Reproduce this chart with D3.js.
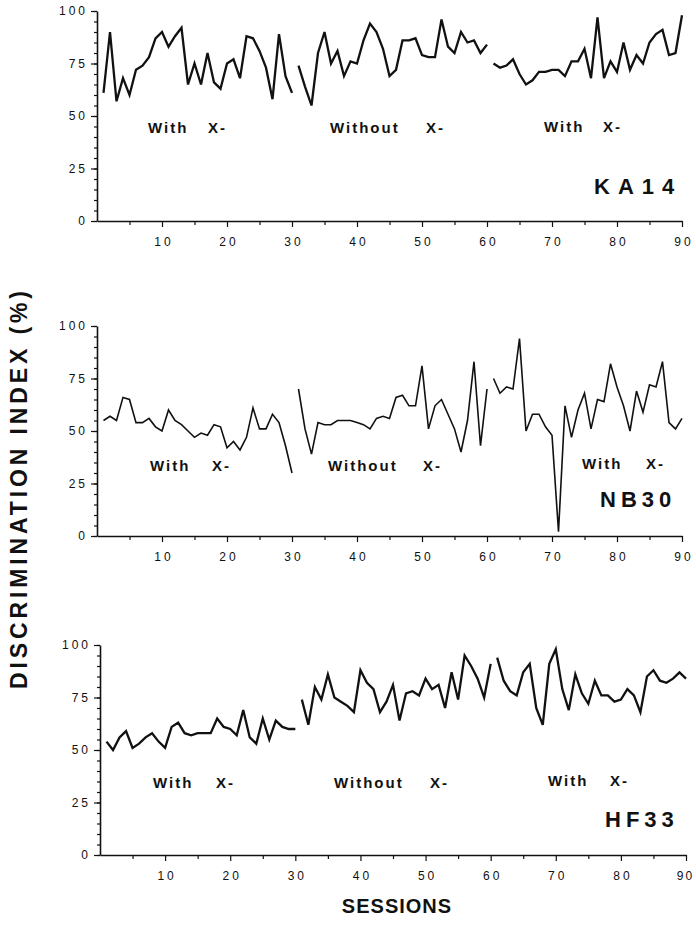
<!DOCTYPE html>
<html>
<head>
<meta charset="utf-8">
<script src="https://cdn.jsdelivr.net/npm/d3@7"></script>
<style>
  body { margin: 0; background: #fff; }
  svg { display: block; font-family: "Liberation Sans", Arial, sans-serif; }
</style>
</head>
<body>
<svg id="chart" width="696" height="944"></svg>
<script>
// Discrimination index per session (sessions 1–90), three subjects
const subjects = ["KA14", "NB30", "HF33"];
const phaseWords = [["With", "X-"], ["Without", "X-"], ["With", "X-"]];
const phaseBounds = [[1, 30], [31, 60], [61, 90]];
const xTickValues = [10, 20, 30, 40, 50, 60, 70, 80, 90];
const yTickValues = [0, 25, 50, 75, 100];

const ka14 = [61, 90, 57, 68, 60, 72, 74, 78, 87, 90, 83, 88, 92, 65, 75, 65, 80, 66, 63, 75, 77, 68, 88, 87, 81, 73, 58, 89, 69, 61,
              74, 64, 55, 80, 90, 75, 81, 69, 76, 75, 86, 94, 90, 82, 69, 72, 86, 86, 87, 79, 78, 78, 96, 83, 80, 90, 85, 86, 80, 84,
              75, 73, 74, 77, 70, 65, 67, 71, 71, 72, 72, 69, 76, 76, 82, 68, 97, 68, 76, 71, 85, 72, 79, 75, 85, 89, 91, 79, 80, 98];

const nb30 = [55, 57, 55, 66, 65, 54, 54, 56, 52, 50, 60, 55, 53, 50, 47, 49, 48, 53, 52, 42, 45, 41, 47, 61, 51, 51, 58, 54, 43, 30,
              70, 51, 39, 54, 53, 53, 55, 55, 55, 54, 53, 51, 56, 57, 56, 66, 67, 62, 62, 81, 51, 62, 65, 58, 51, 40, 55, 83, 43, 70,
              75, 68, 71, 70, 94, 50, 58, 58, 52, 48, 2, 62, 47, 60, 68, 51, 65, 64, 82, 71, 62, 50, 69, 59, 72, 71, 83, 54, 51, 56];

const hf33 = [54, 50, 56, 59, 51, 53, 56, 58, 54, 51, 61, 63, 58, 57, 58, 58, 58, 65, 61, 60, 57, 69, 56, 53, 65, 55, 64, 61, 60, 60,
              74, 62, 80, 74, 86, 75, 73, 71, 68, 88, 82, 79, 68, 73, 81, 64, 77, 78, 76, 84, 79, 81, 70, 87, 74, 95, 90, 84, 75, 91,
              94, 83, 78, 76, 87, 91, 70, 62, 91, 98, 79, 69, 86, 77, 72, 83, 76, 76, 73, 74, 79, 76, 68, 85, 88, 83, 82, 84, 87, 84];

const seriesBySubject = [ka14, nb30, hf33];

// Panel frames and text placement ([first word x, "X-" x, baseline]; name [x, y, spacing])
const panels = [
  { left: 97, right: 682, top: 11, bottom: 221, stroke: 2.3,
    phaseText: [[148, 208, 133], [330, 426, 133], [544, 603, 132]], name: [594, 194, 8] },
  { left: 97, right: 682, top: 326, bottom: 536, stroke: 1.6,
    phaseText: [[150, 212, 471], [328, 423, 471], [582, 646, 469]], name: [600, 507, 5] },
  { left: 100, right: 686, top: 645, bottom: 855, stroke: 2.3,
    phaseText: [[153, 216, 788], [334, 430, 788], [548, 610, 786]], name: [605, 827, 5] }
];

const svg = d3.select("#chart");

panels.forEach((p, i) => {
  const x = d3.scaleLinear().domain([0, 90]).range([p.left, p.right]);
  const y = d3.scaleLinear().domain([0, 100]).range([p.bottom, p.top]);
  const g = svg.append("g");

  // y axis: labelled ticks every 25, minor every 5
  g.append("g")
    .attr("transform", `translate(${p.left},0)`)
    .call(d3.axisLeft(y).tickValues(d3.range(0, 101, 5)).tickSize(3).tickFormat(""))
    .call(a => a.select(".domain").remove());
  const ya = g.append("g")
    .attr("transform", `translate(${p.left},0)`)
    .call(d3.axisLeft(y).tickValues(yTickValues).tickSize(6).tickSizeOuter(0).tickPadding(6));

  // x axis: labelled ticks every 10, minor every 5
  g.append("g")
    .attr("transform", `translate(0,${p.bottom})`)
    .call(d3.axisBottom(x).tickValues(d3.range(5, 91, 10)).tickSize(4).tickFormat(""))
    .call(a => a.select(".domain").remove());
  const xa = g.append("g")
    .attr("transform", `translate(0,${p.bottom})`)
    .call(d3.axisBottom(x).tickValues(xTickValues).tickSize(6).tickSizeOuter(0).tickPadding(10));

  g.selectAll(".domain").attr("stroke", "#111").attr("stroke-width", 1.6);
  g.selectAll(".tick line").attr("stroke", "#111").attr("stroke-width", 1.2);
  ya.selectAll("text").attr("font-size", 12).attr("fill", "#111")
    .attr("letter-spacing", 3).attr("dx", 3);
  xa.selectAll("text").attr("font-size", 12).attr("fill", "#111")
    .attr("letter-spacing", 3).attr("dx", 1.5);
  // keep the last label inside the page edge
  xa.selectAll(".tick text").filter(d => d === 90 && x(90) > 684)
    .attr("letter-spacing", 2).attr("dx", -1);

  // one broken line per phase
  const values = seriesBySubject[i];
  const line = d3.line().x(d => x(d.s)).y(d => y(d.v));
  phaseBounds.forEach(([a, b]) => {
    const pts = d3.range(a, b + 1).map(s => ({ s, v: values[s - 1] }));
    g.append("path")
      .datum(pts)
      .attr("d", line)
      .attr("fill", "none")
      .attr("stroke", "#111")
      .attr("stroke-width", p.stroke)
      .attr("stroke-linejoin", "miter");
  });

  // phase labels
  phaseWords.forEach((words, k) => {
    const [wx, xx, ty] = p.phaseText[k];
    const t = g.append("text")
      .attr("y", ty)
      .attr("font-size", 15).attr("font-weight", "bold")
      .attr("letter-spacing", 2)
      .attr("fill", "#111");
    t.append("tspan").attr("x", wx).text(words[0]);
    t.append("tspan").attr("x", xx).text(words[1]);
  });

  // subject label
  const [nx, ny, ns] = p.name;
  g.append("text")
    .attr("x", nx).attr("y", ny)
    .attr("font-size", 22).attr("font-weight", "bold")
    .attr("letter-spacing", ns)
    .attr("fill", "#111")
    .text(subjects[i]);
});

// axis titles
svg.append("text")
  .attr("transform", "translate(27,490) rotate(-90)")
  .attr("text-anchor", "middle")
  .attr("font-size", 23).attr("font-weight", "bold").attr("fill", "#111")
  .attr("textLength", 398).attr("lengthAdjust", "spacing")
  .text("DISCRIMINATION INDEX (%)");

svg.append("text")
  .attr("x", 397).attr("y", 913)
  .attr("text-anchor", "middle")
  .attr("font-size", 20).attr("font-weight", "bold").attr("fill", "#111")
  .attr("letter-spacing", 1)
  .text("SESSIONS");
</script>
</body>
</html>
